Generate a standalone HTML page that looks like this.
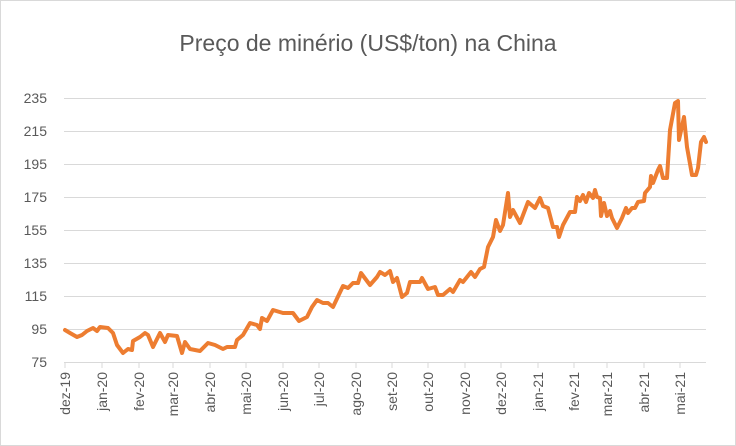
<!DOCTYPE html>
<html><head><meta charset="utf-8"><style>
body{margin:0;background:#fff}
svg{display:block;font-family:"Liberation Sans",sans-serif}
</style></head><body>
<svg width="736" height="446" viewBox="0 0 736 446">
<rect x="0.5" y="0.5" width="735" height="445" fill="#fff" stroke="#d9d9d9"/>
<text x="368" y="51" text-anchor="middle" font-size="23" fill="#595959">Preço de minério (US$/ton) na China</text>
<g stroke="#d9d9d9" stroke-width="1">
<line x1="64" y1="98.5" x2="706" y2="98.5"/><line x1="64" y1="131.5" x2="706" y2="131.5"/>
<line x1="64" y1="164.5" x2="706" y2="164.5"/><line x1="64" y1="197.5" x2="706" y2="197.5"/>
<line x1="64" y1="230.5" x2="706" y2="230.5"/><line x1="64" y1="263.5" x2="706" y2="263.5"/>
<line x1="64" y1="296.5" x2="706" y2="296.5"/><line x1="64" y1="329.5" x2="706" y2="329.5"/>
<line x1="64" y1="362.5" x2="706" y2="362.5"/>
<line x1="65" y1="362" x2="65" y2="368"/><line x1="102" y1="362" x2="102" y2="368"/><line x1="139" y1="362" x2="139" y2="368"/><line x1="173" y1="362" x2="173" y2="368"/><line x1="210" y1="362" x2="210" y2="368"/><line x1="246" y1="362" x2="246" y2="368"/><line x1="283" y1="362" x2="283" y2="368"/><line x1="319" y1="362" x2="319" y2="368"/><line x1="356" y1="362" x2="356" y2="368"/><line x1="392" y1="362" x2="392" y2="368"/><line x1="428" y1="362" x2="428" y2="368"/><line x1="465" y1="362" x2="465" y2="368"/><line x1="501" y1="362" x2="501" y2="368"/><line x1="538" y1="362" x2="538" y2="368"/><line x1="574" y1="362" x2="574" y2="368"/><line x1="607" y1="362" x2="607" y2="368"/><line x1="644" y1="362" x2="644" y2="368"/><line x1="680" y1="362" x2="680" y2="368"/>
</g>
<g font-size="14" fill="#595959" text-anchor="end">
<text x="47" y="103">235</text><text x="47" y="136">215</text><text x="47" y="169">195</text><text x="47" y="202">175</text><text x="47" y="235">155</text><text x="47" y="268">135</text><text x="47" y="301">115</text><text x="47" y="334">95</text><text x="47" y="367">75</text>
</g>
<g font-size="14" fill="#595959" text-anchor="end">
<text transform="translate(70,372) rotate(-90)">dez-19</text>
<text transform="translate(107,372) rotate(-90)">jan-20</text>
<text transform="translate(144,372) rotate(-90)">fev-20</text>
<text transform="translate(178,372) rotate(-90)">mar-20</text>
<text transform="translate(215,372) rotate(-90)">abr-20</text>
<text transform="translate(251,372) rotate(-90)">mai-20</text>
<text transform="translate(288,372) rotate(-90)">jun-20</text>
<text transform="translate(324,372) rotate(-90)">jul-20</text>
<text transform="translate(361,372) rotate(-90)">ago-20</text>
<text transform="translate(397,372) rotate(-90)">set-20</text>
<text transform="translate(433,372) rotate(-90)">out-20</text>
<text transform="translate(470,372) rotate(-90)">nov-20</text>
<text transform="translate(506,372) rotate(-90)">dez-20</text>
<text transform="translate(543,372) rotate(-90)">jan-21</text>
<text transform="translate(579,372) rotate(-90)">fev-21</text>
<text transform="translate(612,372) rotate(-90)">mar-21</text>
<text transform="translate(649,372) rotate(-90)">abr-21</text>
<text transform="translate(685,372) rotate(-90)">mai-21</text>
</g>
<polyline fill="none" stroke="#ED7D31" stroke-width="4" stroke-linejoin="round" stroke-linecap="round" points="65,330 70,333 77,337 82,335 87,331 93,328 97,331 100,327 108,328 113,333 117,345 123,353 128,349 132,350 133,341 140,337 145,333 148,335 153,347 160,333 165,342 168,335 177,336 182,353 185,342 190,349 200,351 208,343 215,345 223,349 227,347 235,347 237,340 243,335 250,323 257,325 260,329 262,318 267,321 273,310 283,313 293,313 299,321 307,317 312,307 317,300 323,303 328,303 333,307 343,286 348,288 353,283 358,283 361,273 370,285 377,277 380,272 385,275 390,271 393,282 397,278 402,297 407,293 410,282 420,282 422,278 428,289 435,287 438,295 443,295 450,289 453,292 460,280 463,282 471,272 475,277 480,269 484,267 488,247 493,237 496,220 500,231 503,225 508,193 510,217 513,210 520,223 528,202 535,208 540,198 543,206 548,208 553,227 557,227 559,237 563,225 570,212 575,212 577,197 580,201 583,195 586,202 589,193 593,198 595,190 597,197 600,198 601,216 604,203 607,216 610,211 612,218 614,222 617,228 622,218 626,208 628,213 632,208 635,208 638,202 644,201 645,193 650,187 651,176 653,183 658,170 660,166 663,178 667,178 670,130 675,103 678,101 679,140 684,117 687,147 692,175 696,175 698,168 701,142 704,137 706,142"/>
</svg>
</body></html>
